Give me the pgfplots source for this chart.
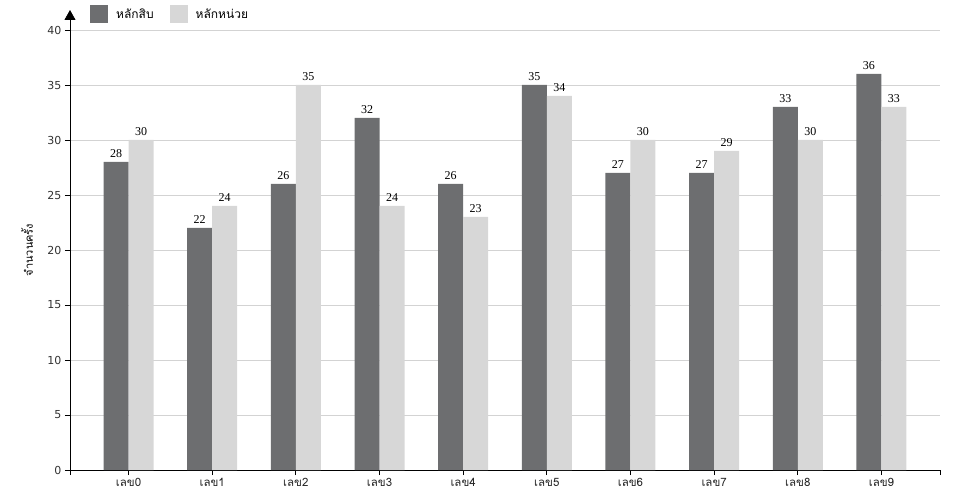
\documentclass[border=0pt]{standalone}
\usepackage{fontspec}
\setmainfont{DejaVu Sans}
\newfontfamily\thaifont[Script=Thai]{Loma}
\newfontfamily\numfont{Liberation Serif}
\usepackage{pgfplots}
\pgfplotsset{compat=1.18}
\usetikzlibrary{arrows.meta}
\definecolor{tens}{HTML}{6D6E70}
\definecolor{units}{HTML}{D7D7D7}
\definecolor{gridc}{HTML}{D3D3D3}

\begin{document}
\begin{tikzpicture}
\begin{axis}[name=ax, scale only axis, width=870pt, height=440pt,
  ybar=0pt, bar width=25pt,
  xmin=-0.7, xmax=9.7, ymin=0, ymax=40, ytick={0,5,...,40},
  xtick={0,...,9},
  xticklabels={เลข0,เลข1,เลข2,เลข3,เลข4,เลข5,เลข6,เลข7,เลข8,เลข9},
  extra x ticks={-0.7,9.7}, extra x tick labels={}, extra x tick style={grid=none},
  axis x line=bottom, axis y line=left,
  x axis line style={-, line width=0.8pt},
  y axis line style={-{Triangle[width=11pt,length=10pt]}, shorten >=-20pt, line width=0.8pt},
  tick align=outside, major tick length=5pt, tick style={black, line width=0.8pt},
  ymajorgrids, grid style={gridc, line width=0.6pt},
  /pgf/number format/assume math mode=true,
  yticklabel style={font=\fontsize{11}{11}\selectfont, text=black!80},
  xticklabel style={font=\thaifont\fontsize{11.5}{11.5}\selectfont, text=black!85},
  ylabel={\thaifont จำนวนครั้ง},
  ylabel style={at={(axis description cs:-0.0494,0.5)}, anchor=center, font=\fontsize{11}{11}\selectfont},
  nodes near coords,
  every node near coord/.append style={font=\numfont\fontsize{12}{12}\selectfont, black, yshift=1pt},
  legend style={at={(axis description cs:0.023,1.0364)}, anchor=west, draw=none, fill=none,
    legend columns=2, font=\thaifont\fontsize{12}{12}\selectfont, inner sep=0pt,
    nodes={inner sep=3pt},
    /tikz/every odd column/.append style={column sep=5pt},
    /tikz/every even column/.append style={column sep=13pt}},
  legend image code/.code={\fill[#1] (0pt,-9pt) rectangle (18pt,9pt);},
]
\addplot[fill=tens, draw=none] coordinates {(0,28) (1,22) (2,26) (3,32) (4,26) (5,35) (6,27) (7,27) (8,33) (9,36)};
\addlegendentry{หลักสิบ}
\addplot[fill=units, draw=none] coordinates {(0,30) (1,24) (2,35) (3,24) (4,23) (5,34) (6,30) (7,29) (8,30) (9,33)};
\addlegendentry{หลักหน่วย}
\end{axis}
\pgfresetboundingbox
\useasboundingbox (ax.south west) ++(-70pt,-30pt) rectangle ++(960pt,500pt);
\end{tikzpicture}
\end{document}
